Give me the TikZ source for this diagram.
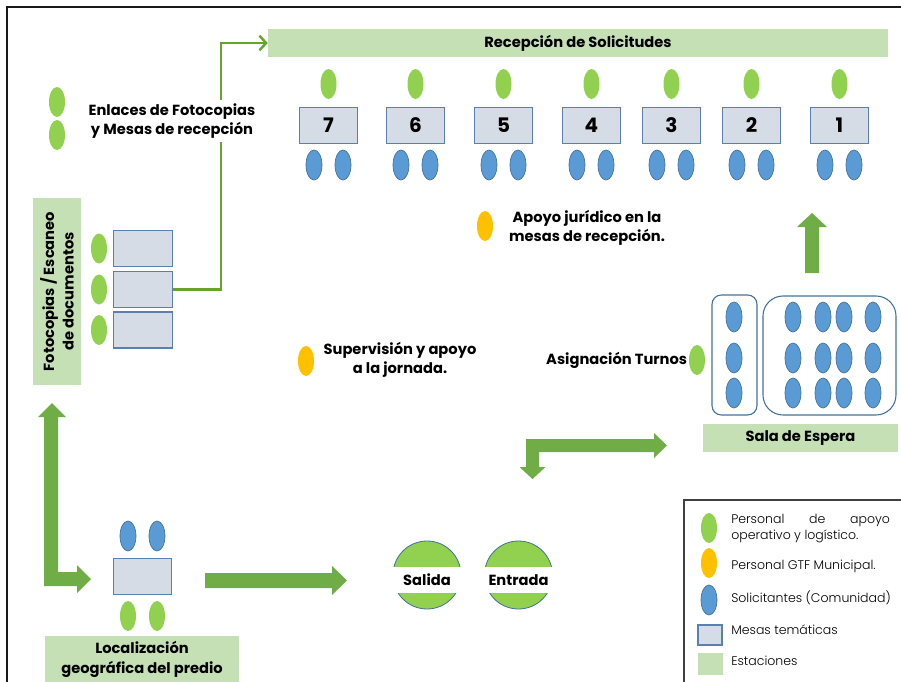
\documentclass[tikz,border=0pt]{standalone}
\usepackage{fontspec}
\setmainfont{Poppins}
\newfontfamily\legendfont{Poppins Light}
\usepackage{tikz}
\usetikzlibrary{shapes.geometric,arrows.meta}

\definecolor{estacion}{HTML}{C5E0B4}
\definecolor{mesafill}{HTML}{D6DCE5}
\definecolor{mesaborde}{HTML}{5A80B2}
\definecolor{apoyo}{HTML}{92D050}
\definecolor{gtf}{HTML}{FFC000}
\definecolor{solicitante}{HTML}{5B9BD5}
\definecolor{solborde}{HTML}{41719C}
\definecolor{flecha}{HTML}{70AD47}
\definecolor{enlace}{HTML}{66A52C}

\tikzset{
  verde/.style={ellipse, fill=apoyo, inner sep=0pt, minimum width=12pt, minimum height=22.5pt},
  amarillo/.style={ellipse, fill=gtf, inner sep=0pt, minimum width=12pt, minimum height=22.5pt},
  azul/.style={ellipse, fill=solicitante, draw=solborde, line width=0.5pt, inner sep=0pt, minimum width=12pt, minimum height=22.5pt},
  mesa/.style={draw=mesaborde, fill=mesafill, line width=0.9pt, inner sep=0pt, minimum width=44pt, minimum height=27.5pt},
  estacionbox/.style={fill=estacion, inner sep=0pt, font=\bfseries\fontsize{11}{14.5}\selectfont, align=center},
  etiqueta/.style={font=\bfseries\fontsize{11}{14.5}\selectfont, align=center, inner sep=1pt},
  leyenda/.style={anchor=west, inner sep=0pt, font=\legendfont\fontsize{9.4}{12}\selectfont},
  bloque/.style={fill=flecha},
  puerta/.style={circle, fill=apoyo, draw=solborde, line width=0.6pt, minimum size=51pt, inner sep=0pt},
  sala/.style={draw=solborde, line width=0.8pt, rounded corners=7pt}
}

\begin{document}
\begin{tikzpicture}[x=0.75pt, y=-0.75pt]
    \useasboundingbox (0,0) rectangle (901,682);
    \draw[line width=1.5pt, black!90] (901,7) -- (7,7) -- (7,682);

    \node[estacionbox, minimum width=465pt, minimum height=21pt] (recep) at (578,43) {Recepción de Solicitudes};
    \foreach \n/\x in {7/328.5, 6/415.5, 5/503.5, 4/591.5, 3/671.5, 2/751.5, 1/839.5} {
        \node[mesa, font=\bfseries\fontsize{15}{15}\selectfont] (m\n) at (\x,125.5) {\n};
        \node[verde] (mv\n) at (\x,84) {};
        \node[azul] (ma\n) at (\x-14.5,165) {};
        \node[azul] (mb\n) at (\x+14.5,165) {};
    }

    \node[estacionbox, rotate=90, minimum width=140pt, minimum height=36pt] (foto) at (57,291.5) {Fotocopias / Escaneo\\de documentos};
    \foreach \k/\y in {1/248.5, 2/289.5, 3/330} {
        \node[mesa, minimum height=27pt] (f\k) at (143,\y) {};
        \node[verde] (fv\k) at (99,\y) {};
    }
    \draw[enlace, line width=1.8pt, -{Straight Barb[length=5pt, width=11pt]}] (f2.east) -- ++(48,0) |- (recep.west);
    \node[etiqueta, fill=white, inner sep=3pt] (enlaces) at (172,121) {Enlaces de Fotocopias\\y Mesas de recepción};
    \node[verde] (ev1) at (57,102) {};
    \node[verde] (ev2) at (57,135) {};

    \node[amarillo] (jur) at (485,226) {};
    \node[etiqueta] (jurtxt) at (587,228) {Apoyo jurídico en la\\mesas de recepción.};
    \node[amarillo] (sup) at (306,361) {};
    \node[etiqueta] (suptxt) at (400,360) {Supervisión y apoyo\\a la jornada.};

    \fill[bloque] (812,213) -- (827,227) -- (819,227) -- (819,273) -- (805,273) -- (805,227) -- (797,227) -- cycle;
    \draw[sala] (712,295) rectangle (757,415);
    \draw[sala, rounded corners=15pt] (763,296) rectangle (896,415);
    \foreach \y in {317, 358, 393} {
        \node[azul] at (734,\y) {};
        \foreach \x in {793, 823, 844, 873} \node[azul] at (\x,\y) {};
    }
    \node[verde] (turno) at (697,360) {};
    \node[etiqueta, anchor=east] (turnotxt) at (turno.west) {Asignación Turnos};
    \node[estacionbox, minimum width=146pt, minimum height=21pt] (sala) at (800.5,438) {Sala de Espera};

    \fill[bloque] (526,439) -- (654,439) -- (654,433) -- (667,445.5) -- (654,458) -- (654,452) -- (539,452) -- (539,467) -- (545.5,467) -- (532.5,479) -- (519.5,467) -- (526,467) -- cycle;

    \fill[bloque] (52,403) -- (66,417) -- (58,417) -- (58,572) -- (77,572) -- (77,565) -- (91,579) -- (77,593) -- (77,586) -- (44,586) -- (44,417) -- (38,417) -- cycle;
    \node[mesa] (loc) at (142.5,576.5) {};
    \node[azul] (la1) at (128,536) {};
    \node[azul] (la2) at (157,536) {};
    \node[verde] (lv1) at (128,616) {};
    \node[verde] (lv2) at (157,616) {};
    \node[estacionbox, anchor=north, minimum width=145.5pt, minimum height=34.5pt] (locbar) at (142,636) {Localización\\geográfica del predio};
    \fill[bloque] (205,573) -- (332,573) -- (332,566) -- (347,580.5) -- (332,595) -- (332,588) -- (205,588) -- cycle;

    \node[puerta] (salida) at (427,575) {};
    \node[puerta] (entrada) at (518.5,575) {};
    \node[etiqueta, fill=white, minimum width=63pt, minimum height=19.5pt] (saltxt) at (427,580) {Salida};
    \node[etiqueta, fill=white, minimum width=63pt, minimum height=19.5pt] (enttxt) at (518.5,580) {Entrada};

    \draw[line width=1.1pt, black!75] (901,500) -- (684,500) -- (684,682);
    \node[verde] (lg1) at (709,528) {};
    \node[amarillo] (lg2) at (709,563) {};
    \node[azul] (lg3) at (709,600) {};
    \node[mesa, minimum width=18pt, minimum height=15pt] (lg4) at (710,635) {};
    \node[fill=estacion, minimum width=19pt, minimum height=16.5pt, inner sep=0pt] (lg5) at (710.5,664) {};
    \node[leyenda, align=left] (lt1) at (731,529) {\makebox[119pt][s]{Personal de apoyo}\\operativo y logístico.};
    \node[leyenda] (lt2) at (731,566) {Personal GTF Municipal.};
    \node[leyenda] (lt3) at (731,598) {Solicitantes (Comunidad)};
    \node[leyenda] (lt4) at (731,630) {Mesas temáticas};
    \node[leyenda] (lt5) at (731,661) {Estaciones};
\end{tikzpicture}
\end{document}
